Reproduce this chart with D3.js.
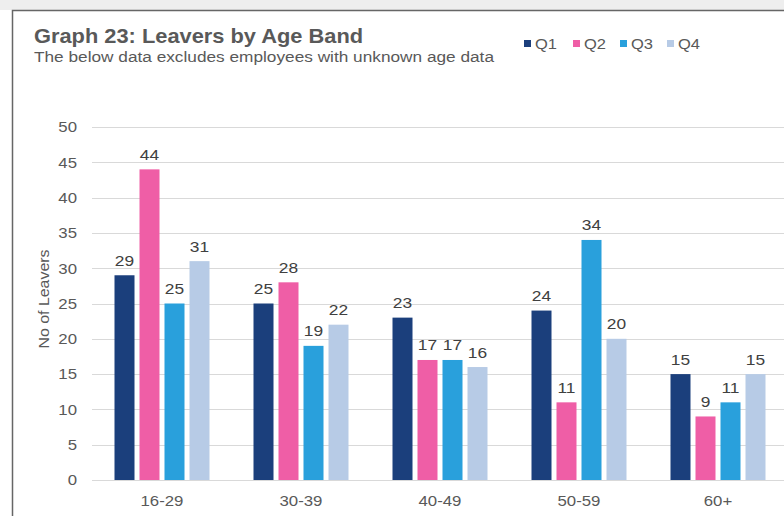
<!DOCTYPE html>
<html><head><meta charset="utf-8">
<script src="https://cdn.jsdelivr.net/npm/d3@7"></script>
<style>body{margin:0;background:#fff;}svg{display:block;font-family:Arial,"Liberation Sans",sans-serif;}</style>
</head><body>
<script>
const categories = ["16-29","30-39","40-49","50-59","60+"];
const seriesNames = ["Q1","Q2","Q3","Q4"];
const Q1 = [29,25,23,24,15];
const Q2 = [44,28,17,11,9];
const Q3 = [25,19,17,34,11];
const Q4 = [31,22,16,20,15];
const yTicks = [0,5,10,15,20,25,30,35,40,45,50];
const colors = ["#1b3f7c","#ef5ea6","#29a0dc","#b7cbe6"];
const seriesValues = [Q1,Q2,Q3,Q4];

const W=784,H=516;
const SX=1.12;
const svg=d3.select("body").append("svg").attr("width",W).attr("height",H);
svg.append("rect").attr("x",0).attr("y",0).attr("width",W).attr("height",10).attr("fill","#eeeeee");
svg.append("rect").attr("x",12.5).attr("y",10.5).attr("width",W+20).attr("height",H+20).attr("fill","#fff").attr("stroke","#666").attr("stroke-width",1.5);

function stext(x,y,txt,size,sx,anchor,fill,weight){
  return svg.append("text").attr("transform",`translate(${x},${y}) scale(${sx},1)`)
    .attr("text-anchor",anchor||"start").attr("font-size",size).attr("fill",fill||"#595959")
    .attr("font-weight",weight||"normal").text(txt);
}

const x=d3.scaleBand().domain(categories).range([92.5,787.5]);
const y=d3.scaleLinear().domain([0,50]).range([480,127]);
const xs=d3.scaleBand().domain(seriesNames).range([22,117]).paddingInner(0.2);

svg.append("g").selectAll("line").data(yTicks).join("line")
 .attr("x1",92).attr("x2",W).attr("y1",d=>Math.round(y(d))+0.5).attr("y2",d=>Math.round(y(d))+0.5)
 .attr("stroke","#d9d9d9").attr("stroke-width",1);

const ya=svg.append("g").attr("transform","translate(77,0)").call(d3.axisLeft(y).tickValues(yTicks).tickSize(0).tickPadding(0));
ya.select(".domain").remove();
ya.selectAll("text").attr("fill","#595959").attr("font-size",15).attr("font-family","Arial,'Liberation Sans',sans-serif")
  .attr("transform",`scale(${SX},1)`);

const xa=svg.append("g").attr("transform","translate(0,494)").call(d3.axisBottom(x).tickSize(0).tickPadding(0));
xa.select(".domain").remove();
xa.selectAll("text").attr("fill","#595959").attr("font-size",15).attr("font-family","Arial,'Liberation Sans',sans-serif")
  .attr("dy",0).attr("y",12).attr("transform",`scale(${SX},1)`);

seriesNames.forEach((s,i)=>{
  const vals=seriesValues[i];
  const gg=svg.append("g");
  gg.selectAll("rect").data(categories).join("rect")
   .attr("x",c=>x(c)+xs(s)).attr("width",xs.bandwidth())
   .attr("y",(c,j)=>y(vals[j])).attr("height",(c,j)=>y(0)-y(vals[j]))
   .attr("fill",colors[i]);
  gg.selectAll("text").data(categories).join("text")
   .attr("transform",(c,j)=>`translate(${x(c)+xs(s)+xs.bandwidth()/2},${y(vals[j])-9.5}) scale(${SX},1)`)
   .attr("text-anchor","middle").attr("fill","#404040").attr("font-size",15.5)
   .text((c,j)=>vals[j]);
});

svg.append("text").attr("transform","translate(49,299) rotate(-90) scale(1.06,1)").attr("text-anchor","middle")
 .attr("fill","#595959").attr("font-size",15).text("No of Leavers");

stext(34,43,"Graph 23: Leavers by Age Band",19.5,SX,"start","#595959","bold");
stext(34,62,"The below data excludes employees with unknown age data",14.5,1.19,"start","#595959");

const legX=[524,573,620,667];
seriesNames.forEach((s,i)=>{
  svg.append("rect").attr("x",legX[i]).attr("y",40).attr("width",7).attr("height",7).attr("fill",colors[i]);
  stext(legX[i]+11,49,s,15,1.1,"start","#595959");
});
</script>
</body></html>
